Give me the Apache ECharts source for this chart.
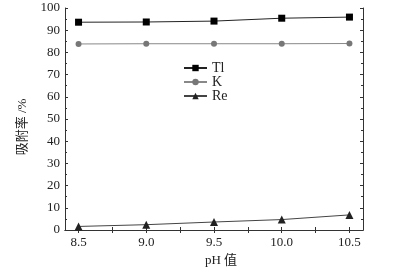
<!DOCTYPE html>
<html>
<head>
<meta charset="utf-8">
<script src="https://cdn.jsdelivr.net/npm/echarts@6/dist/echarts.min.js"></script>
<style>
  html, body { margin: 0; padding: 0; background: #fff; }
  #chart { width: 397px; height: 274px; }
</style>
</head>
<body>
<div id="chart"></div>
<script>
  // 数据
  var phValues = [8.5, 9.0, 9.5, 10.0, 10.5];
  var tlData = [93.6, 93.7, 94.1, 95.4, 95.9];
  var kData = [83.8, 83.9, 83.9, 83.9, 84.0];
  var reData = [1.6, 2.4, 3.6, 4.7, 6.8];
  var xLabels = [8.5, 9.0, 9.5, 10.0, 10.5];
  var xTicks = [8.5, 8.75, 9.0, 9.25, 9.5, 9.75, 10.0, 10.25, 10.5];

  function pairs(ys) {
    return phValues.map(function (x, i) { return [x, ys[i]]; });
  }

  var font = "'Liberation Serif', 'DejaVu Serif', 'Noto Sans CJK SC', serif";
  var axisColor = '#333';

  var myChart = echarts.init(document.getElementById('chart'));
  var option = {
    animation: false,
    textStyle: { fontFamily: font },
    grid: { left: 65, top: 8, width: 298, height: 222 },
    legend: {
      orient: 'vertical',
      left: 183,
      top: 61,
      padding: 0,
      itemWidth: 23,
      itemHeight: 8,
      itemGap: 0,
      textStyle: { fontFamily: font, fontSize: 14, color: '#222', lineHeight: 14 },
      data: ['Tl', 'K', 'Re']
    },
    xAxis: [
      {
        type: 'value',
        min: 8.4,
        max: 10.6,
        name: 'pH 值',
        nameLocation: 'middle',
        nameGap: 24,
        nameTextStyle: { fontFamily: font, fontSize: 13, color: '#222', padding: [0, 0, 0, 14] },
        axisLine: { show: true, lineStyle: { color: axisColor, width: 1 } },
        axisTick: { show: true, inside: true, length: 3, customValues: xTicks, lineStyle: { color: axisColor } },
        axisLabel: {
          customValues: xLabels,
          color: '#222', fontSize: 13, margin: 6,
          formatter: function (v) { return v.toFixed(1); }
        },
        splitLine: { show: false }
      },
      {
        type: 'value',
        position: 'top',
        min: 8.4,
        max: 10.6,
        axisLine: { show: true, lineStyle: { color: axisColor, width: 1 } },
        axisTick: { show: true, inside: true, length: 3, customValues: xTicks, lineStyle: { color: axisColor } },
        axisLabel: { show: false },
        splitLine: { show: false }
      }
    ],
    yAxis: [
      {
        type: 'value',
        min: 0,
        max: 100,
        interval: 10,
        name: '吸附率 /%',
        nameLocation: 'middle',
        nameGap: 36,
        nameTextStyle: { fontFamily: font, fontSize: 13, color: '#222', padding: [0, 16, 0, 0] },
        axisLine: { show: true, lineStyle: { color: axisColor, width: 1 } },
        axisTick: { show: true, inside: true, length: 3, lineStyle: { color: axisColor } },
        minorTick: { show: true, splitNumber: 2, length: 2, lineStyle: { color: axisColor } },
        axisLabel: { color: '#222', fontSize: 13, margin: 5 },
        splitLine: { show: false }
      },
      {
        type: 'value',
        position: 'right',
        min: 0,
        max: 100,
        interval: 10,
        axisLine: { show: true, lineStyle: { color: axisColor, width: 1 } },
        axisTick: { show: true, inside: true, length: 3, lineStyle: { color: axisColor } },
        minorTick: { show: true, splitNumber: 2, length: 2, lineStyle: { color: axisColor } },
        axisLabel: { show: false },
        splitLine: { show: false }
      }
    ],
    series: [
      {
        name: 'Tl',
        type: 'line',
        data: pairs(tlData),
        symbol: 'rect',
        symbolSize: 7,
        lineStyle: { color: '#222', width: 1 },
        itemStyle: { color: '#000' }
      },
      {
        name: 'K',
        type: 'line',
        data: pairs(kData),
        symbol: 'circle',
        symbolSize: 6,
        lineStyle: { color: '#888', width: 1 },
        itemStyle: { color: '#777' }
      },
      {
        name: 'Re',
        type: 'line',
        data: pairs(reData),
        symbol: 'triangle',
        symbolSize: 8,
        lineStyle: { color: '#444', width: 1 },
        itemStyle: { color: '#222' }
      }
    ]
  };
  myChart.setOption(option);
</script>
</body>
</html>
